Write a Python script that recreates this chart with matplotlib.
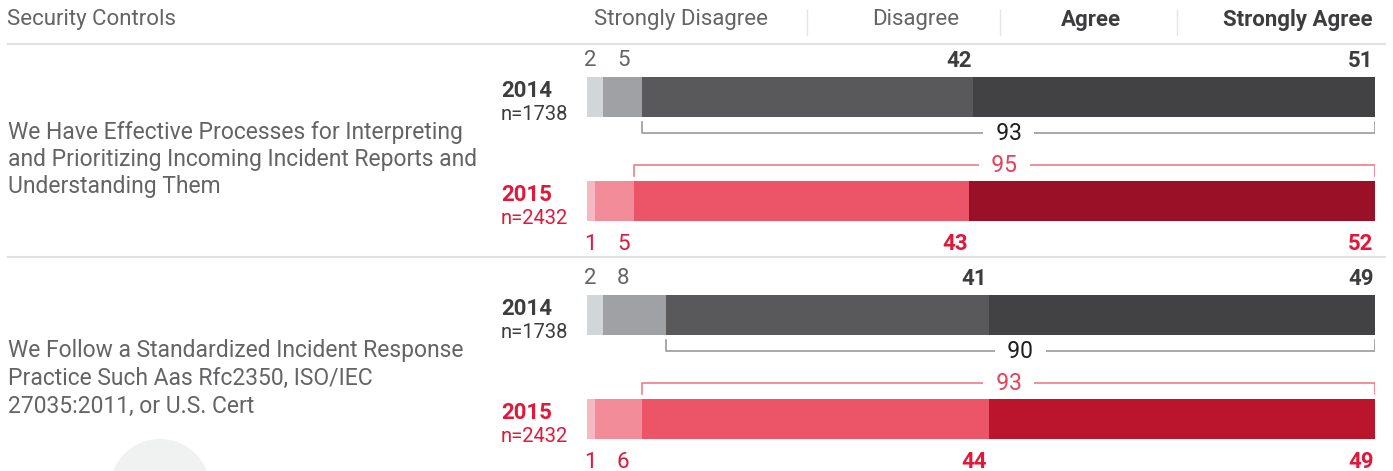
import matplotlib.pyplot as plt
from matplotlib.patches import Circle

W, H = 1393, 471

categories = ["Strongly Disagree", "Disagree", "Agree", "Strongly Agree"]
questions = [
    ["We Have Effective Processes for Interpreting",
     "and Prioritizing Incoming Incident Reports and",
     "Understanding Them"],
    ["We Follow a Standardized Incident Response",
     "Practice Such Aas Rfc2350, ISO/IEC",
     "27035:2011, or U.S. Cert"],
]
years = ["2014", "2015"]
sample_sizes = ["n=1738", "n=2432"]

# one list per question, values for 2014 / 2015
q1_2014 = [2, 5, 42, 51]
q1_2015 = [1, 5, 43, 52]
q2_2014 = [2, 8, 41, 49]
q2_2015 = [1, 6, 44, 49]
agree_totals = [[93, 95], [90, 93]]

plt.rcParams['font.family'] = ['Roboto', 'DejaVu Sans']

gray_text = "#646467"
dark_text = "#3d3d3f"
red_text = "#e2183a"
grays = ["#d1d6d8", "#a0a1a5", "#59595b", "#424244"]
reds = [["#f6b9c2", "#f18c98", "#ec5468", "#9a1027"],
        ["#f6b9c2", "#f18c98", "#ec5468", "#bb152d"]]

fig = plt.figure(figsize=(W / 100, H / 100), dpi=100)

# background axes in pixel units for the labels, rules and decoration
bg = fig.add_axes([0, 0, 1, 1])
bg.set_xlim(0, W)
bg.set_ylim(H, 0)
bg.axis("off")

bg.text(7, 20, "Security Controls", fontsize=16, color=gray_text, va="center")
head_x = [681, 916, 1091, 1298]
for i, (cat, hx) in enumerate(zip(categories, head_x)):
    bold = i >= 2
    bg.text(hx, 20, cat, fontsize=16, ha="center", va="center",
            color=dark_text if bold else gray_text,
            fontweight="bold" if bold else "normal")
for sx in [807, 1000, 1177]:
    bg.plot([sx, sx], [10, 35], color="#e3e5e6", lw=1)
bg.plot([8, 1385], [44, 44], color="#dfe3e3", lw=1.5)
bg.plot([8, 1385], [257, 257], color="#dfe3e3", lw=1.5)

bg.add_patch(Circle((160, 489), 50, color="#f0f1f1", lw=0))

# bar axes: x in percent
ax = fig.add_axes([587 / W, 0, 788 / W, 1])
ax.set_xlim(0, 100)
ax.set_ylim(H, 0)
ax.axis("off")

rows = [(q1_2014, q1_2015), (q2_2014, q2_2015)]
row_top = [0, 218]
q_y = [132, 351]

for r, (v14, v15) in enumerate(rows):
    off = row_top[r]
    for j, line in enumerate(questions[r]):
        bg.text(8, q_y[r] + 27.5 * j, line, fontsize=16.5, color=gray_text, va="center")

    for k, (vals, cols) in enumerate([(v14, grays), (v15, reds[r])]):
        yc = off + (97 if k == 0 else 201)
        total = sum(vals)
        widths = [v / total * 100 for v in vals]
        lefts = [sum(widths[:i]) for i in range(len(widths))]
        ax.barh(yc, widths, left=lefts, height=40, color=cols, lw=0)

        tcol = dark_text if k == 0 else red_text
        bg.text(501, yc - 6, years[k], fontsize=16, fontweight="bold", color=tcol, va="center")
        bg.text(501, yc + 17, sample_sizes[k], fontsize=14.5, color=tcol, va="center")

        # value labels: above the 2014 bar, below the 2015 bar
        ly = yc - 36 if k == 0 else yc + 43
        small_col = gray_text if k == 0 else red_text
        ax.text(0.4, ly, str(vals[0]), fontsize=16, ha="center", va="center", color=small_col)
        ax.text(4.6, ly, str(vals[1]), fontsize=16, ha="center", va="center", color=small_col)
        ax.text(lefts[3] - 0.2, ly, str(vals[2]), fontsize=16, ha="right", va="center",
                color=tcol, fontweight="bold")
        ax.text(99.8, ly, str(vals[3]), fontsize=16, ha="right", va="center",
                color=tcol, fontweight="bold")

        # bracket over the agree share, broken around its total
        x0 = lefts[2]
        if k == 0:
            by, tick = off + 133, off + 122
            bcol, lcol = "#9a9a9c", "#1e1e1e"
        else:
            by, tick = off + 165, off + 176
            bcol, lcol = "#f07a88", "#e8415a"
        ax.plot([x0, x0, 100, 100], [tick, by, by, tick], color=bcol, lw=1.2)
        ax.text((x0 + 100) / 2, by + 1, "  %d  " % agree_totals[r][k], fontsize=16.5,
                ha="center", va="center", color=lcol,
                bbox=dict(facecolor="white", edgecolor="none", boxstyle="square,pad=0.05"))

fig.savefig("out.png", dpi=100)
